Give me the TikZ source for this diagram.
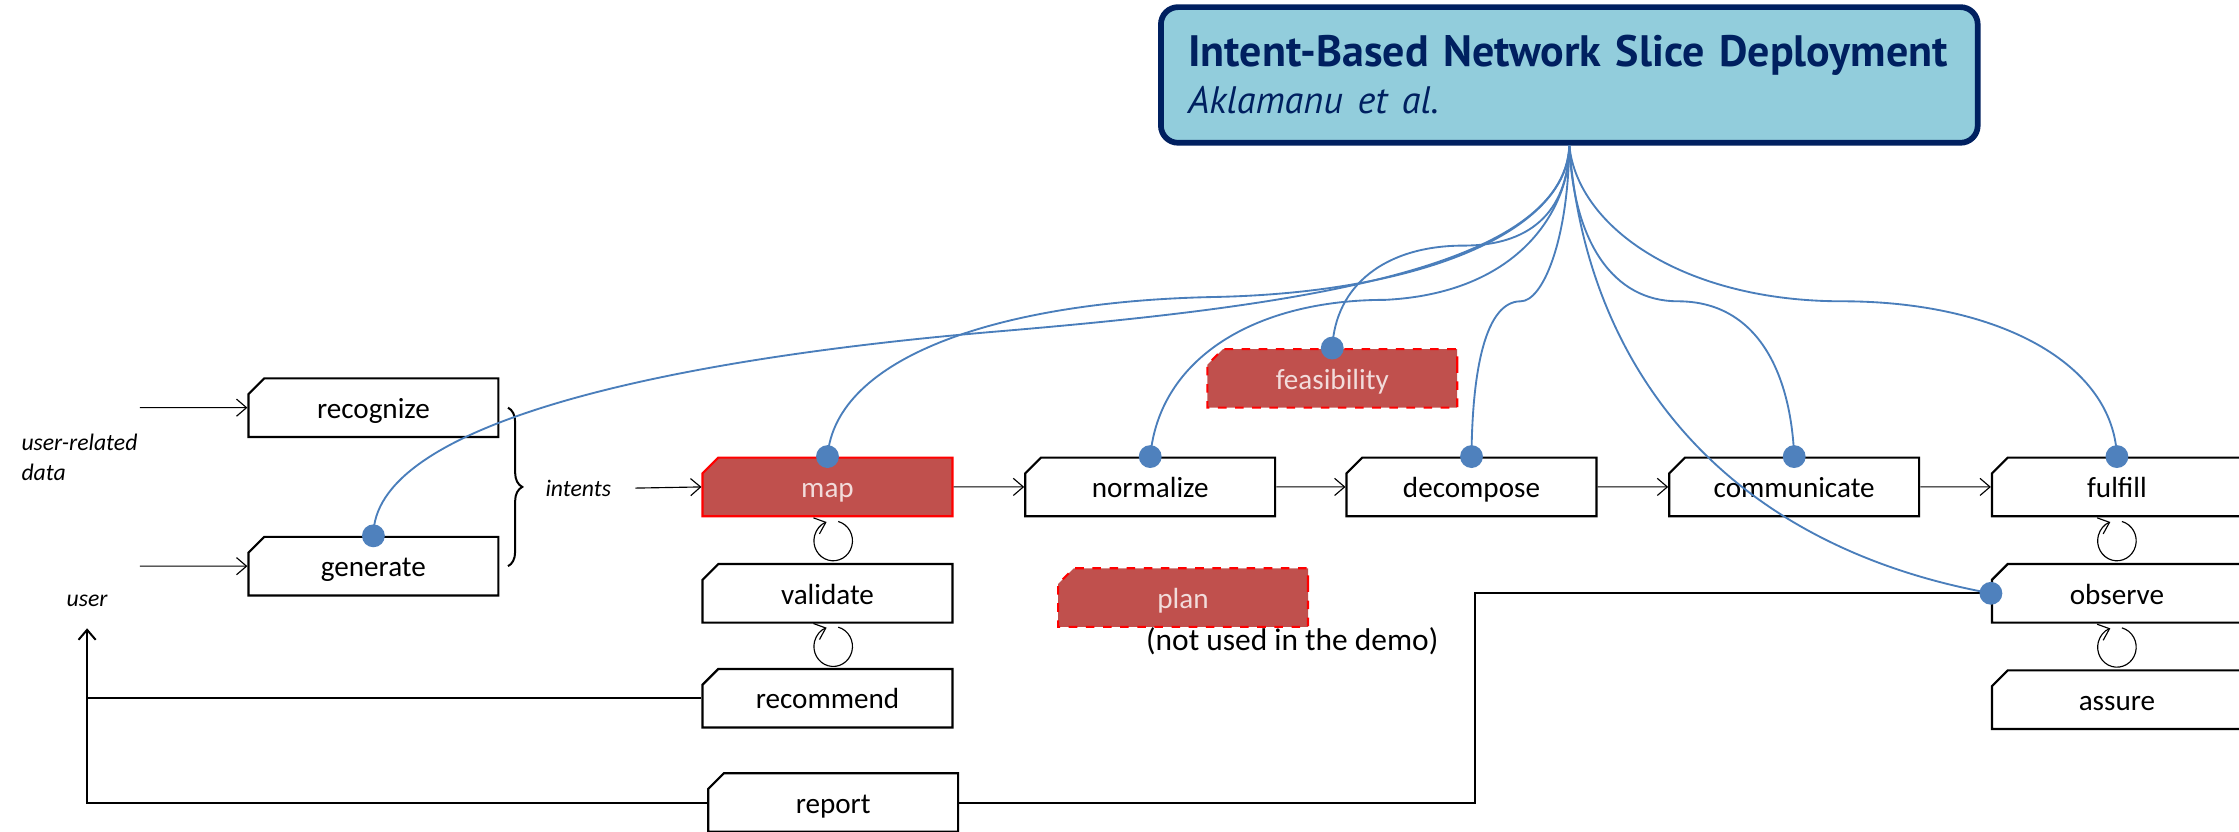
\documentclass[tikz,border=0pt]{standalone}
\usepackage{fontspec}
\setmainfont{Carlito}
\newfontfamily\titlefont{PT Sans}
\usetikzlibrary{shapes.misc, arrows.meta, decorations.pathreplacing, calc}

\definecolor{titlefill}{RGB}{146,205,220}
\definecolor{titledark}{RGB}{0,32,96}
\definecolor{redfill}{RGB}{192,80,77}
\definecolor{redtext}{RGB}{242,220,219}
\definecolor{linkblue}{RGB}{74,126,187}
\definecolor{dotblue}{RGB}{79,129,189}

\newcommand{\loopmark}[1]{\draw[->] ([shift={(-75:13.5)}]#1) arc[start angle=-75, end angle=250, x radius=13.5, y radius=14];}

\begin{document}
\begin{tikzpicture}[x=0.5pt,y=0.5pt,yscale=-1,
  >={Straight Barb[length=3.5pt,width=6pt]},
  procbox/.style={chamfered rectangle, chamfered rectangle corners=north west,
    chamfered rectangle xsep=2.5pt, chamfered rectangle ysep=3pt,
    draw, fill=white, line width=0.75pt, minimum width=87.5pt, minimum height=20.5pt, inner sep=0pt,
    text height=7.5pt, text depth=0pt, font=\fontsize{10.2}{12}\selectfont},
  hotbox/.style={procbox, fill=redfill, draw=red, text=redtext},
  lbl/.style={font=\fontsize{8.3}{10.5}\selectfont\itshape},
  link/.style={draw=linkblue, line width=0.65pt},
  titlebox/.style={draw=titledark, fill=titlefill, line width=2pt, rounded corners=6pt,
    minimum width=286pt, minimum height=47.5pt, text width=267pt, align=left,
    inner xsep=9.5pt, text=titledark, font=\titlefont\fontsize{15.4}{16.5}\selectfont},
]
\useasboundingbox (0,0) rectangle (1568,582);

% Title
\node[titlebox] (title) at (1099,52.5) {\textbf{Intent-Based Network Slice Deployment}\\{\fontsize{13.4}{16.5}\selectfont\itshape Aklamanu et al.}};

% Process boxes
\node[procbox] (recognize) at (261.5,285.5) {recognize};
\node[procbox] (generate) at (261.5,396.5) {generate};
\node[hotbox] (map) at (579.5,341) {map};
\node[procbox] (normalize) at (805.5,341) {normalize};
\node[procbox] (decompose) at (1030.5,341) {decompose};
\node[procbox] (communicate) at (1256.5,341) {communicate};
\node[procbox] (fulfill) at (1482.5,341) {fulfill};
\node[procbox] (validate) at (579.5,415.5) {validate};
\node[procbox] (recommend) at (579.5,489) {recommend};
\node[procbox] (report) at (583.5,562) {report};
\node[procbox] (observe) at (1482.5,415.5) {observe};
\node[procbox] (assure) at (1482.5,490) {assure};
\node[hotbox, dashed] (feasibility) at (933,265) {feasibility};
\node[hotbox, dashed] (plan) at (828.5,418.5) {plan};
\node[font=\fontsize{11}{13}\selectfont] (notused) at (905,449) {(not used in the demo)};

% Labels
\node[lbl, align=left, anchor=west] (userdata) at (8,320) {user-related\\data};
\node[lbl] (intents) at (405,342) {intents};
\node[lbl] (user) at (61,421) {user};
\coordinate (in1) at (98,285.5);
\coordinate (in2) at (98,396.5);

% Flow
\draw[->] (in1) -- (recognize);
\draw[->] (in2) -- (generate);
\draw[decorate, decoration={brace, amplitude=5pt}, line width=0.7pt] ($(recognize.east)+(6,0)$) -- ($(generate.east)+(6,0)$);
\draw[->, shorten <=5pt] (intents.east) -- (map.west);
\foreach \a/\b in {map/normalize, normalize/decompose, decompose/communicate, communicate/fulfill}
  \draw[->] (\a) -- (\b);
\draw[line width=0.7pt] (recommend.west) -- (recommend.west -| user.center);
\draw[->, line width=0.7pt] (report.west) -| ([shift={(0,19)}]user.center);
\draw[line width=0.7pt] (report.east) -- ++(361,0) |- (observe.west);

% Loops
\coordinate (loopA) at ($(map.south)!0.5!(validate.north)+(4,0)$);
\coordinate (loopB) at ($(validate.south)!0.5!(recommend.north)+(4,0)$);
\coordinate (loopC) at ($(fulfill.south)!0.5!(observe.north)$);
\coordinate (loopD) at ($(observe.south)!0.5!(assure.north)$);
\foreach \c in {loopA, loopB, loopC, loopD} {\loopmark{\c}}

% Links from the title
\draw[link] (title.south) .. controls (1095,190) and (900,215) .. (700,232) .. controls (450,253) and (261,300) .. (generate.north);
\draw[link] (title.south) .. controls (1098,160) and (1000,205) .. (850,208) .. controls (700,211) and (585,250) .. (map.north);
\draw[link] (title.south) .. controls (1100,140) and (1070,205) .. (970,210) .. controls (880,210) and (812,250) .. (normalize.north);
\draw[link] (title.south) .. controls (1098,150) and (1070,172) .. (1025,172) .. controls (970,172) and (935,200) .. (feasibility.north);
\draw[link] (title.south) .. controls (1098,170) and (1080,211) .. (1065,211) .. controls (1040,211) and (1031,260) .. (decompose.north);
\draw[link] (title.south) .. controls (1110,250) and (1200,380) .. (observe.west);
\draw[link] (title.south) .. controls (1102,170) and (1130,211) .. (1175,211) .. controls (1230,211) and (1254,260) .. (communicate.north);
\draw[link] (title.south) .. controls (1105,160) and (1180,211) .. (1290,211) .. controls (1400,211) and (1480,255) .. (fulfill.north);

% Dots
\foreach \n in {generate, map, normalize, feasibility, decompose, communicate, fulfill}
  \fill[dotblue] (\n.north) circle[radius=8];
\fill[dotblue] (observe.west) circle[radius=8];

\end{tikzpicture}
\end{document}
